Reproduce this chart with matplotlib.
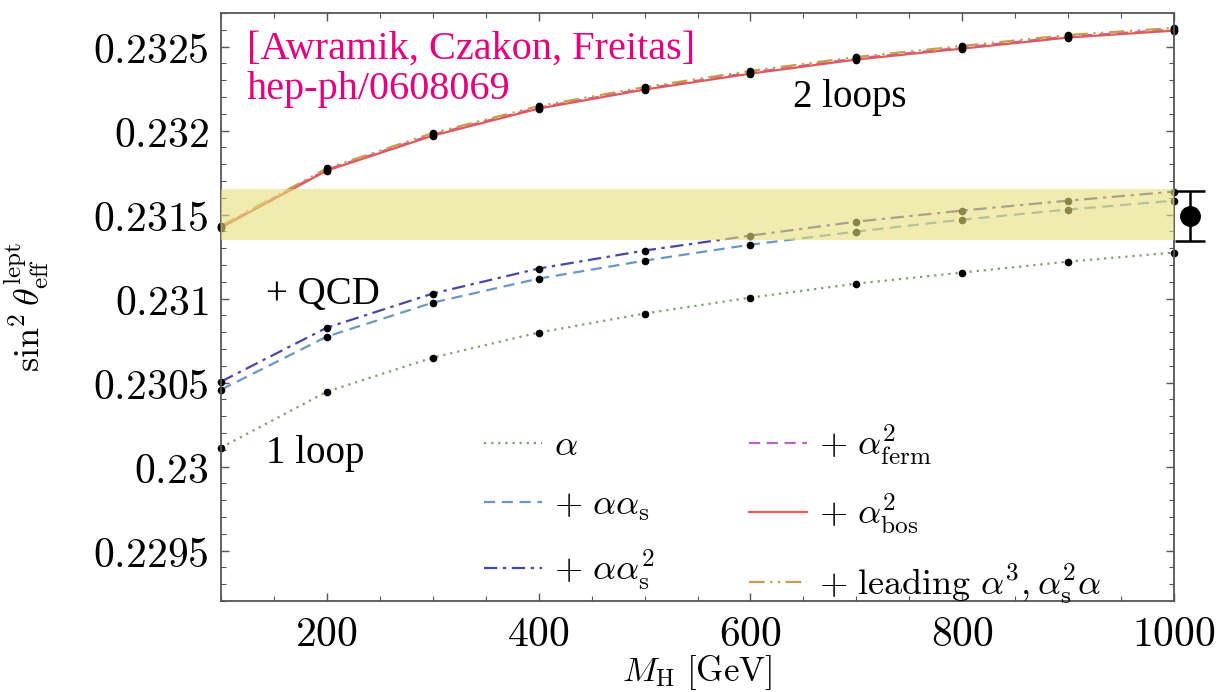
import matplotlib
matplotlib.use("Agg")
import matplotlib.pyplot as plt
from matplotlib.ticker import MultipleLocator, FuncFormatter

plt.rcParams["mathtext.fontset"] = "cm"

# Higgs mass points [GeV]
mh = [100, 200, 300, 400, 500, 600, 700, 800, 900, 1000]

# sin^2 theta_eff^lept
one_loop = [0.230113, 0.230446, 0.230649, 0.230798, 0.230911,
            0.231006, 0.231089, 0.231155, 0.231220, 0.231274]
qcd_1 = [0.230458, 0.230774, 0.230976, 0.231119, 0.231226,
         0.231321, 0.231399, 0.231470, 0.231530, 0.231583]
qcd_2 = [0.230506, 0.230827, 0.231030, 0.231179, 0.231286,
         0.231375, 0.231458, 0.231524, 0.231583, 0.231637]
ferm = [0.231428, 0.231768, 0.231976, 0.232137, 0.232250,
        0.232345, 0.232429, 0.232494, 0.232560, 0.232601]
bos = [0.231423, 0.231762, 0.231970, 0.232131, 0.232244,
       0.232339, 0.232423, 0.232488, 0.232554, 0.232595]
leading = [0.231433, 0.231775, 0.231985, 0.232146, 0.232259,
           0.232355, 0.232438, 0.232504, 0.232569, 0.232611]

# experimental value and band
exp_x = 1015
exp_val = 0.23149
exp_err = 0.00015
band_lo, band_hi = 0.23135, 0.23165

fig = plt.figure(figsize=(12.2, 6.92), dpi=100)
ax = fig.add_axes([221/1220, 91/692, 953/1220, 588/692])

curves = [
    (one_loop, r"$\alpha$", "#7f9e6e", (0, (1, 2.2))),
    (qcd_1, r"$+\ \alpha\alpha_{\rm s}$", "#6b97c2", (0, (5, 3))),
    (qcd_2, r"$+\ \alpha\alpha_{\rm s}^2$", "#4747a8", (0, (6, 2.5, 1.5, 2.5))),
    (ferm, r"$+\ \alpha^2_{\rm ferm}$", "#b765c4", (0, (5, 3))),
    (bos, r"$+\ \alpha^2_{\rm bos}$", "#e05a5a", "-"),
    (leading, r"$+\ \mathrm{leading}\ \alpha^3, \alpha_{\rm s}^2\alpha$", "#c99a4e",
     (0, (7, 2.5, 1, 2.5, 1, 2.5))),
]

for y, lab, c, ls in curves:
    ax.plot(mh, y, color=c, ls=ls, lw=1.6, label=lab, zorder=2)
    ax.plot(mh, y, "o", color="black", ms=4.5, zorder=2.5, clip_on=False)

ax.axhspan(band_lo, band_hi, color="#e6e07a", alpha=0.6, lw=0, zorder=3)

ax.errorbar([exp_x], [exp_val], yerr=[exp_err], fmt="o", color="black",
            ms=14, capsize=11, elinewidth=1.8, capthick=1.8, clip_on=False, zorder=5)

ax.set_xlim(100, 1000)
ax.set_ylim(0.2292, 0.2327)
ax.xaxis.set_major_locator(MultipleLocator(200))
ax.xaxis.set_minor_locator(MultipleLocator(50))
ax.yaxis.set_major_locator(MultipleLocator(0.0005))
ax.yaxis.set_minor_locator(MultipleLocator(0.0001))
fmt = FuncFormatter(lambda v, p: "$%g$" % round(v, 5))
ax.xaxis.set_major_formatter(fmt)
ax.yaxis.set_major_formatter(fmt)
ax.tick_params(which="both", direction="in", top=True, right=True, colors="#555555",
               labelcolor="black", labelsize=30)
ax.tick_params(which="major", length=6, width=1.0, pad=9)
ax.tick_params(which="minor", length=3.5, width=0.8)
for s in ax.spines.values():
    s.set_color("#555555")
    s.set_linewidth(1.3)

ax.set_xlabel(r"$M_{\rm H}\ [\mathrm{GeV}]$", fontsize=25, labelpad=-2)
ax.set_ylabel(r"$\sin^2\theta_{\rm eff}^{\rm lept}$", fontsize=26)
ax.yaxis.set_label_coords(-0.178, 0.5)

serif = ["Liberation Serif", "DejaVu Serif"]
ax.text(0.027, 0.97, "[Awramik, Czakon, Freitas]\nhep-ph/0608069", transform=ax.transAxes,
        color="#e4007c", fontsize=29, family=serif, va="top", linespacing=1.12)
ax.text(0.6, 0.84, "2 loops", transform=ax.transAxes, fontsize=28, family=serif)
ax.text(0.047, 0.505, "+ QCD", transform=ax.transAxes, fontsize=28, family=serif)
ax.text(0.047, 0.235, "1 loop", transform=ax.transAxes, fontsize=28, family=serif)

ax.legend(ncol=2, loc="upper left", bbox_to_anchor=(0.257, 0.334), frameon=False,
          fontsize=26, borderpad=0, handlelength=1.6, handletextpad=0.35,
          columnspacing=2.6, labelspacing=0.7)

fig.savefig("out.png", dpi=100)
